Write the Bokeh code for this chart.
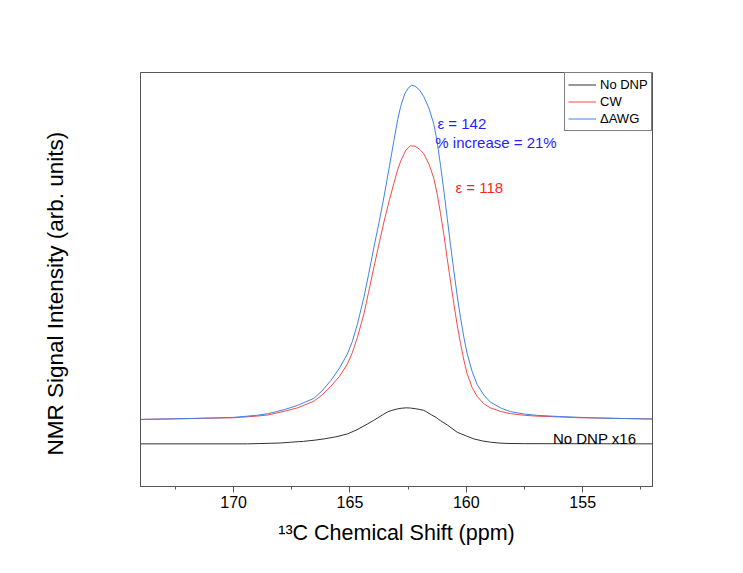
from bokeh.plotting import figure
from bokeh.models import Range1d, FixedTicker, Label, Title
from bokeh.embed import file_html
from bokeh.resources import INLINE

# ---- data ----
awg_ppm = [174.0, 172.0, 170.0, 169.0, 168.5, 167.8, 167.25, 166.55, 166.2, 165.82, 165.45, 165.11,
           164.9, 164.68, 164.40, 164.2, 163.97, 163.75, 163.54, 163.3, 163.11, 162.95, 162.82, 162.65,
           162.5, 162.35, 162.2, 162.0, 161.83, 161.6, 161.40, 161.25, 161.11, 160.95, 160.82,
           160.68, 160.54, 160.4, 160.25, 160.1, 159.97, 159.75, 159.54, 159.25, 158.97, 158.5,
           158.11, 157.5, 157.0, 156.0, 155.11, 154.0, 152.0]
awg_int = [16.2, 16.4, 16.7, 17.2, 17.6, 18.6, 19.6, 21.3, 23.1, 25.6, 28.6, 32.0,
           35.0, 39.2, 45.7, 51.2, 57.8, 63.8, 69.9, 77.5, 83.6, 88.6, 91.8, 94.8,
           96.2, 96.9, 96.7, 95.7, 94.2, 91.3, 87.6, 83.2, 77.6, 70.8, 64.8,
           58.4, 52.3, 46.4, 40.8, 35.9, 32.2, 27.8, 24.7, 22.1, 20.4, 18.9,
           18.1, 17.5, 17.2, 16.9, 16.7, 16.5, 16.3]

cw_ppm = [174.0, 172.0, 170.0, 169.0, 168.5, 167.8, 167.25, 166.55, 166.2, 165.82, 165.45, 165.11,
          164.9, 164.68, 164.40, 164.2, 163.97, 163.75, 163.54, 163.3, 163.11, 162.95, 162.82, 162.6,
          162.4, 162.2, 162.0, 161.83, 161.6, 161.40, 161.25, 161.11, 160.95, 160.82,
          160.68, 160.54, 160.4, 160.25, 160.1, 159.97, 159.75, 159.54, 159.25, 158.97, 158.5,
          158.11, 157.5, 157.0, 156.0, 155.11, 154.0, 152.0]
cw_int = [16.2, 16.4, 16.6, 17.0, 17.3, 18.2, 19.0, 20.6, 22.1, 24.2, 26.6, 29.6,
          32.3, 36.0, 41.7, 46.9, 53.0, 58.6, 63.9, 69.3, 73.3, 76.5, 78.6, 81.2,
          82.3, 82.2, 81.4, 80.4, 77.8, 74.5, 70.6, 66.0, 60.3, 55.0,
          49.6, 44.3, 39.3, 34.6, 30.4, 27.3, 23.9, 21.8, 20.0, 19.0, 18.1,
          17.6, 17.2, 17.0, 16.8, 16.6, 16.5, 16.3]

nodnp_ppm = [174.0, 169.4, 168.0, 167.54, 167.0, 166.5, 166.11, 165.6, 165.11, 164.7, 164.25, 164.0,
             163.8, 163.6, 163.39, 163.2, 162.95, 162.8, 162.58, 162.4, 162.2, 162.0, 161.83,
             161.7, 161.5, 161.3, 161.11, 160.8, 160.39, 160.0, 159.68, 159.3, 158.97, 158.6,
             158.25, 157.5, 152.0]
nodnp_int = [10.3, 10.3, 10.5, 10.7, 10.9, 11.2, 11.5, 12.0, 12.7, 13.7, 15.1, 15.9,
             16.6, 17.3, 18.0, 18.4, 18.75, 18.9, 19.0, 18.95, 18.8, 18.6, 18.4,
             18.0, 17.3, 16.7, 15.9, 14.8, 13.1, 12.2, 11.5, 11.0, 10.7, 10.5,
             10.4, 10.35, 10.3]

x_major = [170, 165, 160, 155]
x_minor = [172.5, 167.5, 162.5, 157.5, 152.5]

FONT = "Liberation Sans"

p = figure(width=720, height=555, output_backend="svg", toolbar_location=None,
           x_range=Range1d(174, 152), y_range=Range1d(0, 100),
           min_border_left=140, min_border_right=68, min_border_top=72, min_border_bottom=69)
p.background_fill_color = "white"
p.border_fill_color = "white"
p.xgrid.visible = False
p.ygrid.visible = False
p.outline_line_color = "#555555"
p.outline_line_width = 1

p.line(nodnp_ppm, nodnp_int, line_color="#333333", line_width=1, legend_label="No DNP")
p.line(cw_ppm, cw_int, line_color="#f24a4a", line_width=1, legend_label="CW")
p.line(awg_ppm, awg_int, line_color="#3f82e6", line_width=1, legend_label="\u0394AWG")

# x axis
xa = p.xaxis[0]
xa.ticker = FixedTicker(ticks=x_major, minor_ticks=x_minor)
xa.axis_label = "\u00b9\u00b3C Chemical Shift (ppm)"
xa.axis_label_text_font = FONT
xa.axis_label_text_font_style = "normal"
xa.axis_label_text_font_size = "21.5px"
xa.axis_label_text_color = "black"
xa.axis_label_standoff = 10
xa.major_label_text_font = FONT
xa.major_label_text_font_size = "16px"
xa.major_label_text_color = "black"
xa.major_label_standoff = 3
xa.major_tick_in = 0
xa.major_tick_out = 6
xa.minor_tick_in = 0
xa.minor_tick_out = 3
xa.axis_line_color = "#555555"
xa.major_tick_line_color = "#555555"
xa.minor_tick_line_color = "#555555"

# y axis (line only; its title is placed as a side title)
ya = p.yaxis[0]
ya.ticker = FixedTicker(ticks=[])
ya.major_tick_in = 0
ya.major_tick_out = 0
ya.minor_tick_in = 0
ya.minor_tick_out = 0
ya.major_label_standoff = 0
ya.axis_line_color = "#555555"
ya.axis_label = " "
ya.axis_label_text_font_size = "1px"
ya.axis_label_standoff = 64

p.add_layout(Title(text="NMR Signal Intensity (arb. units)", align="left", offset=31,
                   text_color="black", text_font=FONT,
                   text_font_size="22.5px", text_font_style="normal"), "left")

# annotations
p.add_layout(Label(x=161.24, y=87.6, text="\u03b5 = 142", text_color="#1f1fff",
                   text_font=FONT, text_font_size="15px", text_baseline="alphabetic"))
p.add_layout(Label(x=161.33, y=83.2, text="% increase = 21%", text_color="#1f1fff",
                   text_font=FONT, text_font_size="15px", text_baseline="alphabetic"))
p.add_layout(Label(x=160.47, y=72.3, text="\u03b5 = 118", text_color="#ff1f1f",
                   text_font=FONT, text_font_size="15px", text_baseline="alphabetic"))
p.add_layout(Label(x=156.28, y=11.5, text="No DNP x16", text_color="black",
                   text_font=FONT, text_font_size="15px", text_baseline="alphabetic"))

lg = p.legend[0]
lg.location = "top_right"
lg.margin = 0
lg.padding = 3
lg.spacing = 0
lg.label_height = 17
lg.glyph_height = 17
lg.glyph_width = 28
lg.label_standoff = 4
lg.label_width = 48
lg.border_line_color = "black"
lg.border_line_width = 1
lg.background_fill_color = "white"
lg.background_fill_alpha = 1
lg.label_text_font = FONT
lg.label_text_font_size = "13px"
lg.label_text_color = "black"

open("out.html", "w").write(file_html(p, INLINE))
